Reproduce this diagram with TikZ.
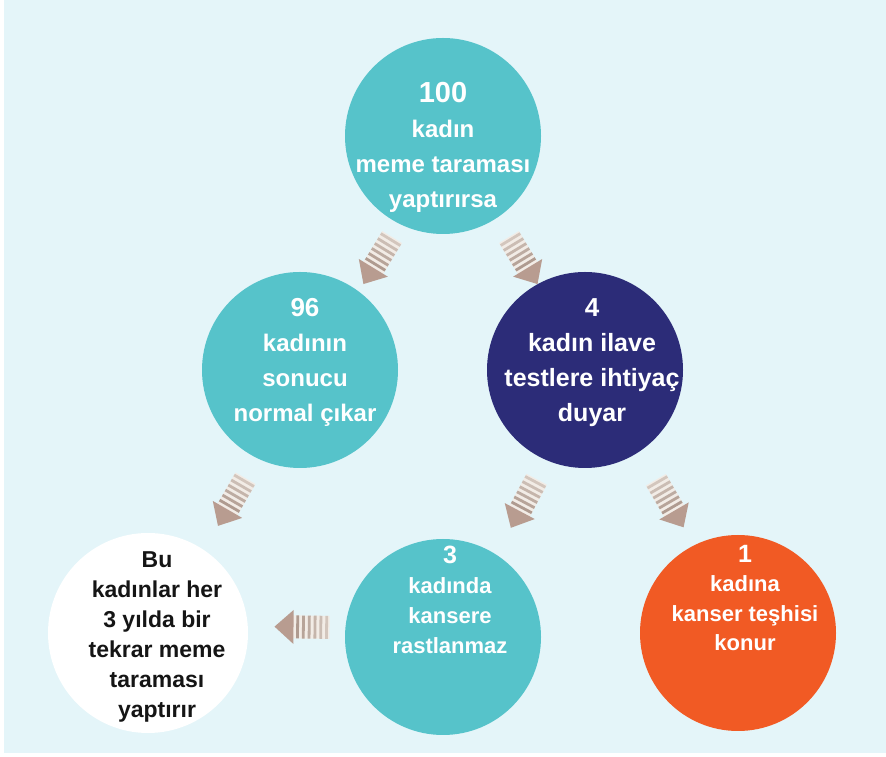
\documentclass[tikz,border=0pt]{standalone}
\usepackage{fontspec}
\setmainfont{Liberation Sans}
\usetikzlibrary{calc}

\definecolor{panelbg}{HTML}{E4F5F9}
\definecolor{tealfill}{HTML}{56C3CA}
\definecolor{navyfill}{HTML}{2C2C78}
\definecolor{orangefill}{HTML}{F15A24}
\definecolor{stripedark}{HTML}{AC978B}
\definecolor{stripelight}{HTML}{F2ECE6}
\definecolor{arrowhead}{HTML}{B89C90}
\definecolor{darktext}{HTML}{151515}

\tikzset{
  disc/.style={circle, inner sep=0pt, minimum size=196pt, draw=none},
  disctext/.style={align=center, inner sep=0pt, text=white, font=\bfseries\fontsize{24}{35}\selectfont},
  % striped block arrow pointing along +x, centred on the origin
  striped/.pic={
    \fill[stripelight] (-28,-11.5) -- (9,-11.5) -- (9,11.5) -- (-28,11.5) -- cycle;
    \foreach \s/\t in {0/45,1/55,2/65,3/75,4/85,5/95}
      \fill[stripedark!\t!stripelight] ({-26.5+\s*5.8},-11.5) -- ({-23.7+\s*5.8},-11.5)
        -- ({-23.7+\s*5.8},11.5) -- ({-26.5+\s*5.8},11.5) -- cycle;
    \fill[arrowhead] (8,-17) -- (27,0) -- (8,17) -- cycle;
  }
}

% arrow placed at #3, turned from node #1 towards node #2
\newcommand{\flowarrow}[3]{%
  \path let \p1=($(#2)-(#1)$), \n1={atan2(\y1,\x1)} in (#3) pic[rotate=\n1]{striped};%
}

\begin{document}
\begin{tikzpicture}[x=1pt,y=1pt]
  \useasboundingbox (0,0) rectangle (886,757);
  \fill[panelbg] (4,4) rectangle (886,757);

  % circles
  \node[disc, fill=tealfill]   (top)   at (443,621) {};
  \node[disc, fill=tealfill]   (n96)   at (300,387) {};
  \node[disc, fill=navyfill]   (n4)    at (585,387) {};
  \node[disc, fill=white, minimum size=200pt] (again) at (148,124) {};
  \node[disc, fill=tealfill]   (n3)    at (443,120) {};
  \node[disc, fill=orangefill] (n1)    at (738,124) {};

  % texts
  \node[disctext, font=\bfseries\fontsize{24}{35}\selectfont] (ttop) at (443,610)
    {{\fontsize{29}{35}\selectfont 100}\\kadın\\meme taraması\\yaptırırsa};
  \node[disctext] (t96) at (305,395)
    {{\fontsize{26}{36}\selectfont 96}\\kadının\\sonucu\\normal çıkar};
  \node[disctext, font=\bfseries\fontsize{25}{35}\selectfont] (t4) at (592,394)
    {{\fontsize{26}{35}\selectfont 4}\\kadın ilave\\testlere ihtiyaç\\duyar};
  \node[disctext, font=\bfseries\fontsize{22}{30}\selectfont] (t3) at (450,157)
    {{\fontsize{25}{30}\selectfont 3}\\kadında\\kansere\\rastlanmaz};
  \node[disctext, font=\bfseries\fontsize{22}{29.5}\selectfont] (t1) at (745,159)
    {{\fontsize{25}{29.5}\selectfont 1}\\kadına\\kanser teşhisi\\konur};
  \node[disctext, text=darktext, font=\bfseries\fontsize{23}{30}\selectfont] (tagain) at (157,120)
    {Bu\\kadınlar her\\3 yılda bir\\tekrar meme\\taraması\\yaptırır};

  % arrow positions
  \coordinate (a1) at (377.5,496);
  \coordinate (a2) at (523.5,496);
  \coordinate (a3) at (231.5,254.5);
  \coordinate (a4) at (523.5,253);
  \coordinate (a5) at (670,253);
  \coordinate (a6) at (301.5,130);

  \flowarrow{top}{n96}{a1}
  \flowarrow{top}{n4}{a2}
  \flowarrow{n96}{again}{a3}
  \flowarrow{n4}{n3}{a4}
  \flowarrow{n4}{n1}{a5}
  \flowarrow{n3}{again}{a6}
\end{tikzpicture}
\end{document}
